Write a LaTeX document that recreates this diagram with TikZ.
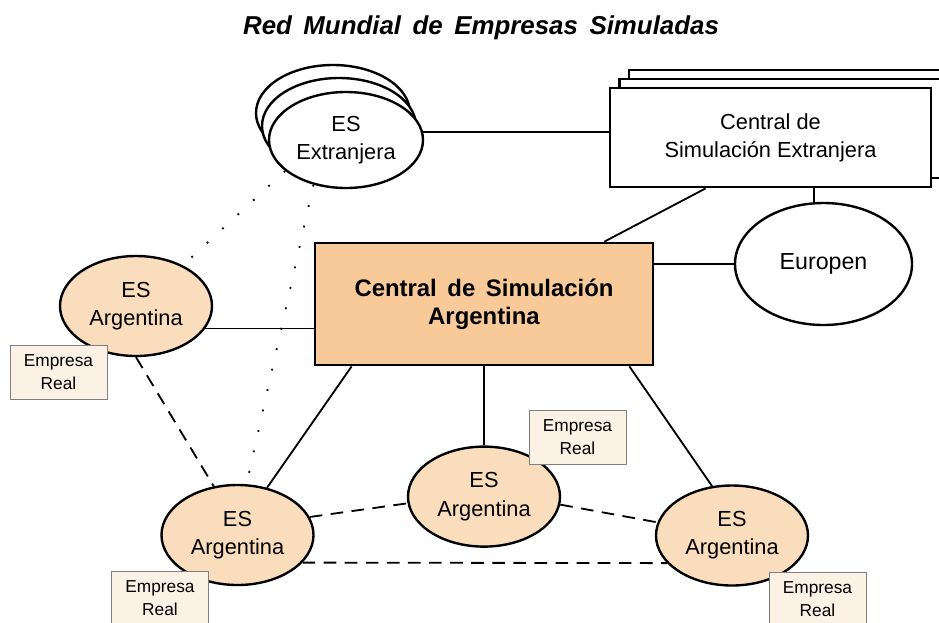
\documentclass[tikz,border=0pt]{standalone}
\usepackage{fontspec}
\setmainfont{Liberation Sans}
\newfontfamily\titlefont[WordSpace=2.6]{Liberation Sans}
\newfontfamily\boxfont[WordSpace=1.6]{Liberation Sans}
\usepackage{tikz}
\usetikzlibrary{positioning}
\usetikzlibrary{shapes.geometric}
\definecolor{csafill}{HTML}{F8C999}
\definecolor{esfill}{HTML}{FADDBC}
\definecolor{realfill}{HTML}{FCF1E5}
\definecolor{realdraw}{HTML}{7F7F7F}

\begin{document}
\begin{tikzpicture}[es/.style={draw,ellipse,line width=1.7pt,fill=esfill,inner sep=0pt,minimum width=3.8cm,minimum height=2.5cm,align=center,font=\fontsize{15.5}{20}\selectfont},
  esx/.style={es,fill=white,minimum width=3.85cm,minimum height=2.4cm},
  cse/.style={draw,line width=2pt,fill=white,inner sep=0pt,minimum width=8.025cm,minimum height=2.475cm,align=center,font=\fontsize{15.5}{20}\selectfont},
  csa/.style={draw,line width=2pt,fill=csafill,inner sep=0pt,minimum width=8.45cm,minimum height=3.05cm,align=center,font=\boxfont\bfseries\fontsize{17}{20}\selectfont},
  real/.style={draw=realdraw,line width=0.6pt,fill=realfill,inner sep=0pt,minimum width=2.425cm,minimum height=1.35cm,align=center,font=\fontsize{12.3}{16.5}\selectfont},
  link/.style={line width=1.3pt},
  dashline/.style={line width=1.3pt,dash pattern=on 9pt off 6pt},
  dotline/.style={line width=1.3pt,dash pattern=on 1.3pt off 13.6pt}]
  \useasboundingbox (0,0) rectangle (23.475,-15.55);
  \node[font=\titlefont\bfseries\itshape\fontsize{18.4}{22}\selectfont] (title) at (12.025,-0.7) {Red Mundial de Empresas Simuladas};

  \node[esx] (esx3) at (8.325,-2.825){};
  \node[esx] (esx2) at (8.475,-3.15){};
  \node[esx] (esx) at (8.65,-3.5){ES\\Extranjera};

  \node[cse] (cse3) at (19.7375,-2.9875){};
  \node[cse] (cse2) at (19.5,-3.2125){};
  \node[cse] (cse) at (19.2625,-3.4375){Central de\\Simulación Extranjera};

  \node[csa] (csa) at (12.1,-7.6){Central de Simulación\\Argentina};
  \node[esx,minimum width=4.425cm,minimum height=3.05cm,font=\fontsize{16.5}{20}\selectfont] (eur) at (20.5875,-6.6){Europen};

  \node[es] (esl) at (3.4,-7.65){ES\\Argentina};
  \node[es,below=1.975cm of csa] (esm){ES\\Argentina};
  \node[es] (esbl) at (5.9375,-13.375){ES\\Argentina};
  \node[es] (esr) at (18.3,-13.3875){ES\\Argentina};

  \node[real] (reall) at (1.4625,-9.3){Empresa\\Real};
  \node[real] (realm) at (14.4375,-10.925){Empresa\\Real};
  \node[real] (realbl) at (4.0,-14.95){Empresa\\Real};
  \node[real] (realr) at (20.4375,-14.975){Empresa\\Real};

  \draw[link](esx.6)--(esx.6 -| cse.west);
  \draw[link]([xshift=2.425cm]cse.south west)--([xshift=-1.25cm]csa.north east);
  \draw[link](eur.99)--(eur.99 |- cse.south);
  \draw[link](eur.west)--(eur.west -| csa.east);
  \draw[link](esl.-18)--(esl.-18 -| csa.west);
  \draw[link]([xshift=0.95cm]csa.south west)--(esbl.58);
  \draw[link](esm.north)--(esm.north |- csa.south);
  \draw[link]([xshift=-0.625cm]csa.south east)--(esr.112);

  \draw[dashline](esl.south)--(esbl.116);
  \draw[dashline](esbl.14)--(esm.185);
  \draw[dashline](esm.-6)--(esr.170);
  \draw[dashline](esbl.-23)--(esr.203);

  \draw[dotline](esx.207)--(esl.41);
  \draw[dotline](esx.234)--(esbl.80);
\end{tikzpicture}
\end{document}
